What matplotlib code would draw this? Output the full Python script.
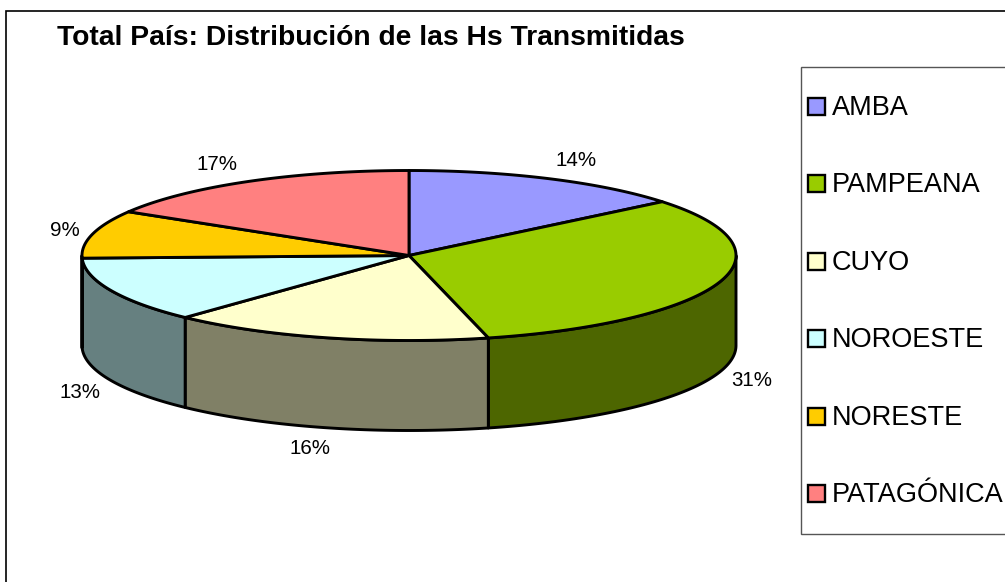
import matplotlib
matplotlib.use("Agg")
import matplotlib.pyplot as plt
from matplotlib.patches import Polygon, Rectangle

import numpy as np

plt.rcParams['font.family'] = ['Liberation Sans', 'DejaVu Sans']

title = "Total País: Distribución de las Hs Transmitidas"
categories = ["AMBA", "PAMPEANA", "CUYO", "NOROESTE", "NORESTE", "PATAGÓNICA"]
# shares as seen on the drawn slices, the printed labels are kept apart
values = [14.1, 32.0, 15.9, 12.5, 9.1, 16.4]
pct_labels = ["14%", "31%", "16%", "13%", "9%", "17%"]
colors = ["#9999ff", "#99cc00", "#ffffcc", "#ccffff", "#ffcc00", "#ff8080"]
side_colors = ["#4c4c80", "#4d6600", "#808066", "#668080", "#806600", "#804040"]
label_pos = [(576, 160), (752, 380), (310, 449), (80, 392), (65, 230), (217, 164)]

CX, CY = 409, 255.5
RX, RY = 327, 85
DEPTH = 90


def ellipse(t, dy=0):
    x = CX + RX * np.sin(t)
    y = CY - RY * np.cos(t) + dy
    return x, y


def side_wall(ax, start, end, color):
    # only the front half of the rim can be seen
    start = max(start, np.pi / 2)
    end = min(end, 3 * np.pi / 2)
    if end <= start:
        return
    t = np.linspace(start, end, 80)
    x, y = ellipse(t)
    x2, y2 = ellipse(t[::-1], DEPTH)
    pts = np.column_stack([np.r_[x, x2], np.r_[y, y2]])
    ax.add_patch(Polygon(pts, closed=True, facecolor=color, edgecolor="black", lw=2.1, joinstyle="round"))


def top_slice(ax, start, end, color):
    t = np.linspace(start, end, 120)
    x, y = ellipse(t)
    pts = np.column_stack([np.r_[CX, x], np.r_[CY, y]])
    ax.add_patch(Polygon(pts, closed=True, facecolor=color, edgecolor="black", lw=2.1, joinstyle="round"))


fig = plt.figure(figsize=(10.05, 5.82), dpi=100)
ax = fig.add_axes([0, 0, 1, 1])
ax.set_xlim(0, 1005)
ax.set_ylim(582, 0)
ax.axis("off")

# chart frame, runs off the right and bottom of the picture
ax.add_patch(Rectangle((6, 11), 1100, 700, facecolor="white", edgecolor="black", lw=1.2))

edges = np.r_[0, np.cumsum(values)] / np.sum(values) * 2 * np.pi

for i in range(len(values)):
    side_wall(ax, edges[i], edges[i + 1], side_colors[i])
for i in range(len(values)):
    top_slice(ax, edges[i], edges[i + 1], colors[i])

for lab, (lx, ly) in zip(pct_labels, label_pos):
    ax.text(lx, ly, lab, fontsize=14.8, ha="center", va="center", color="black")

ax.text(57, 38, title, fontsize=20.3, fontweight="bold", ha="left", va="center")

# legend box
ax.add_patch(Rectangle((801, 67), 400, 467, facecolor="white", edgecolor="#555555", lw=1.0))
for i, name in enumerate(categories):
    ly = 107 + i * 77.4
    ax.add_patch(Rectangle((808, ly - 9), 17, 17, facecolor=colors[i], edgecolor="black", lw=1.7))
    ax.text(832, ly + 1, name, fontsize=19.5, ha="left", va="center")

fig.savefig("out.png", dpi=100)
